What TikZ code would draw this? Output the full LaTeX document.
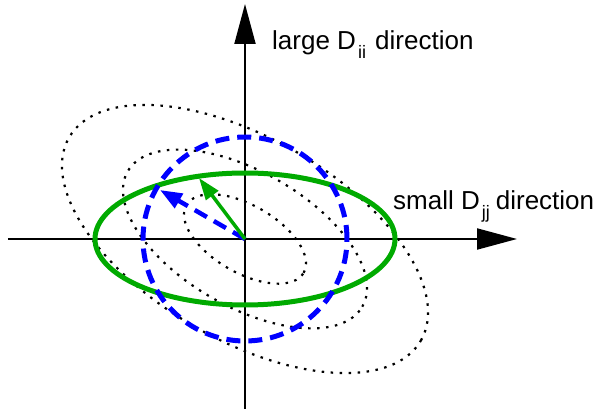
\documentclass[tikz,border=0pt]{standalone}
\usepackage{fontspec}
\setmainfont{Liberation Sans}
\usetikzlibrary{arrows.meta}
\definecolor{Grn}{RGB}{0,170,0}
\definecolor{Blu}{RGB}{0,0,255}
\newcommand{\sbs}[1]{\hspace{2pt}\raisebox{-9pt}{\fontsize{18}{20}\selectfont #1}}

\begin{document}
\begin{tikzpicture}[x=1pt,y=1pt]
    \useasboundingbox (-245,-170) rectangle (358,239);
    \coordinate (O) at (0,0);
    \coordinate (xl) at (-237,0); \coordinate (xr) at (272,0);
    \coordinate (yb) at (0,-170); \coordinate (yt) at (0,235);
    \draw[line width=2pt,-{Triangle[length=40pt,width=21pt]}] (xl)--(xr);
    \draw[line width=2pt,-{Triangle[length=40pt,width=21pt]}] (yb)--(yt);
    % level sets
    \foreach \k in {1,2,3}
      \draw[line width=2.2pt,dash pattern=on 2.5pt off 6.5pt,rotate=-30] (O) ellipse[x radius=\k*67.7, y radius=\k*33.7];
    \draw[Grn,line width=5pt] (O) ellipse[x radius=150, y radius=66];
    \draw[Blu,line width=5pt,dash pattern=on 14pt off 8pt] (O) circle[radius=102];
    \coordinate (bt) at (-85,49); \coordinate (gt) at (-46,61);
    \draw[Blu,line width=4.5pt,dash pattern=on 14pt off 8pt,-{Triangle[length=22pt,width=16pt]}] (O)--(bt);
    \draw[Grn,line width=3.5pt,-{Triangle[length=22pt,width=15pt]}] (O)--(gt);
    \node[anchor=base west,inner sep=0,font=\fontsize{26}{30}\selectfont] (lg) at (27,189)
      {large D\sbs{ii}\hspace{2pt} direction};
    \node[anchor=base west,inner sep=0,font=\fontsize{26}{30}\selectfont] (sm) at (148,29)
      {small D\sbs{jj}\hspace{6pt}direction};
  \end{tikzpicture}
\end{document}
